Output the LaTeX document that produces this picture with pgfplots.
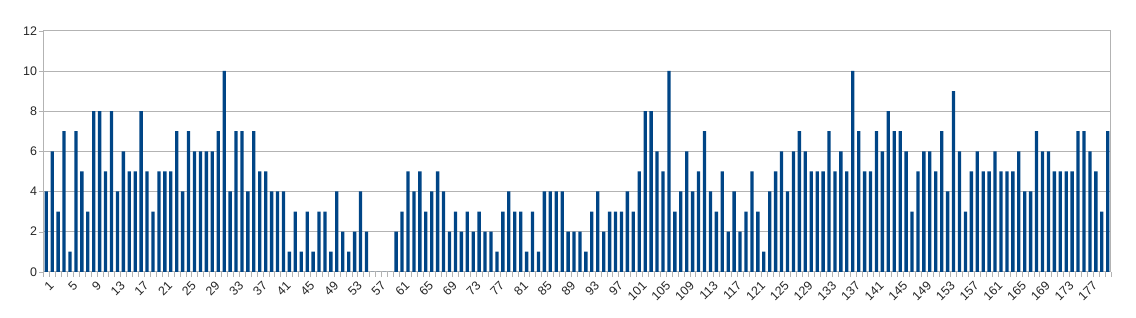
\documentclass[border=0pt]{standalone}
\usepackage{fontspec}
\setmainfont{Liberation Sans}
\usepackage{pgfplots}
\usepackage{pgfplotstable}
\pgfplotsset{compat=1.18}
\definecolor{barblue}{HTML}{004586}
\definecolor{gridgray}{HTML}{B3B3B3}
\pgfplotstableread{
x y
1 4
2 6
3 3
4 7
5 1
6 7
7 5
8 3
9 8
10 8
11 5
12 8
13 4
14 6
15 5
16 5
17 8
18 5
19 3
20 5
21 5
22 5
23 7
24 4
25 7
26 6
27 6
28 6
29 6
30 7
31 10
32 4
33 7
34 7
35 4
36 7
37 5
38 5
39 4
40 4
41 4
42 1
43 3
44 1
45 3
46 1
47 3
48 3
49 1
50 4
51 2
52 1
53 2
54 4
55 2
56 0
57 0
58 0
59 0
60 2
61 3
62 5
63 4
64 5
65 3
66 4
67 5
68 4
69 2
70 3
71 2
72 3
73 2
74 3
75 2
76 2
77 1
78 3
79 4
80 3
81 3
82 1
83 3
84 1
85 4
86 4
87 4
88 4
89 2
90 2
91 2
92 1
93 3
94 4
95 2
96 3
97 3
98 3
99 4
100 3
101 5
102 8
103 8
104 6
105 5
106 10
107 3
108 4
109 6
110 4
111 5
112 7
113 4
114 3
115 5
116 2
117 4
118 2
119 3
120 5
121 3
122 1
123 4
124 5
125 6
126 4
127 6
128 7
129 6
130 5
131 5
132 5
133 7
134 5
135 6
136 5
137 10
138 7
139 5
140 5
141 7
142 6
143 8
144 7
145 7
146 6
147 3
148 5
149 6
150 6
151 5
152 7
153 4
154 9
155 6
156 3
157 5
158 6
159 5
160 5
161 6
162 5
163 5
164 5
165 6
166 4
167 4
168 7
169 6
170 6
171 5
172 5
173 5
174 5
175 7
176 7
177 6
178 5
179 3
180 7
}\datatable
\begin{document}
\begin{tikzpicture}
\useasboundingbox (0,0) rectangle (1136bp,318bp);
\begin{axis}[
  at={(43.3bp,46.2bp)}, anchor=south west,
  scale only axis, width=1067.4bp, height=241bp,
  xmin=0.5, xmax=180.5, ymin=0, ymax=12,
  ytick={0,2,...,12},
  xtick={1,5,...,177},
  minor xtick={0.5,1.5,...,180.5},
  tick pos=left,
  tick align=outside,
  major x tick style={draw=none},
  minor x tick style={gridgray},
  minor tick length=5bp,
  major tick length=4bp,
  y tick style={gridgray},
  ymajorgrids,
  major grid style={gridgray, line width=0.8bp},
  axis line style={gridgray, line width=0.8bp},
  /pgf/number format/assume math mode=true,
  tick label style={font=\fontsize{12.5}{14}\selectfont, text=black!85},
  xticklabel style={rotate=45, anchor=north east, inner sep=1.5bp, yshift=-3bp},
  yticklabel style={inner sep=2bp},
]
\addplot[ybar, bar width=0.56, fill=barblue, draw=none] table[x=x, y=y] {\datatable};
\end{axis}
\end{tikzpicture}
\end{document}
